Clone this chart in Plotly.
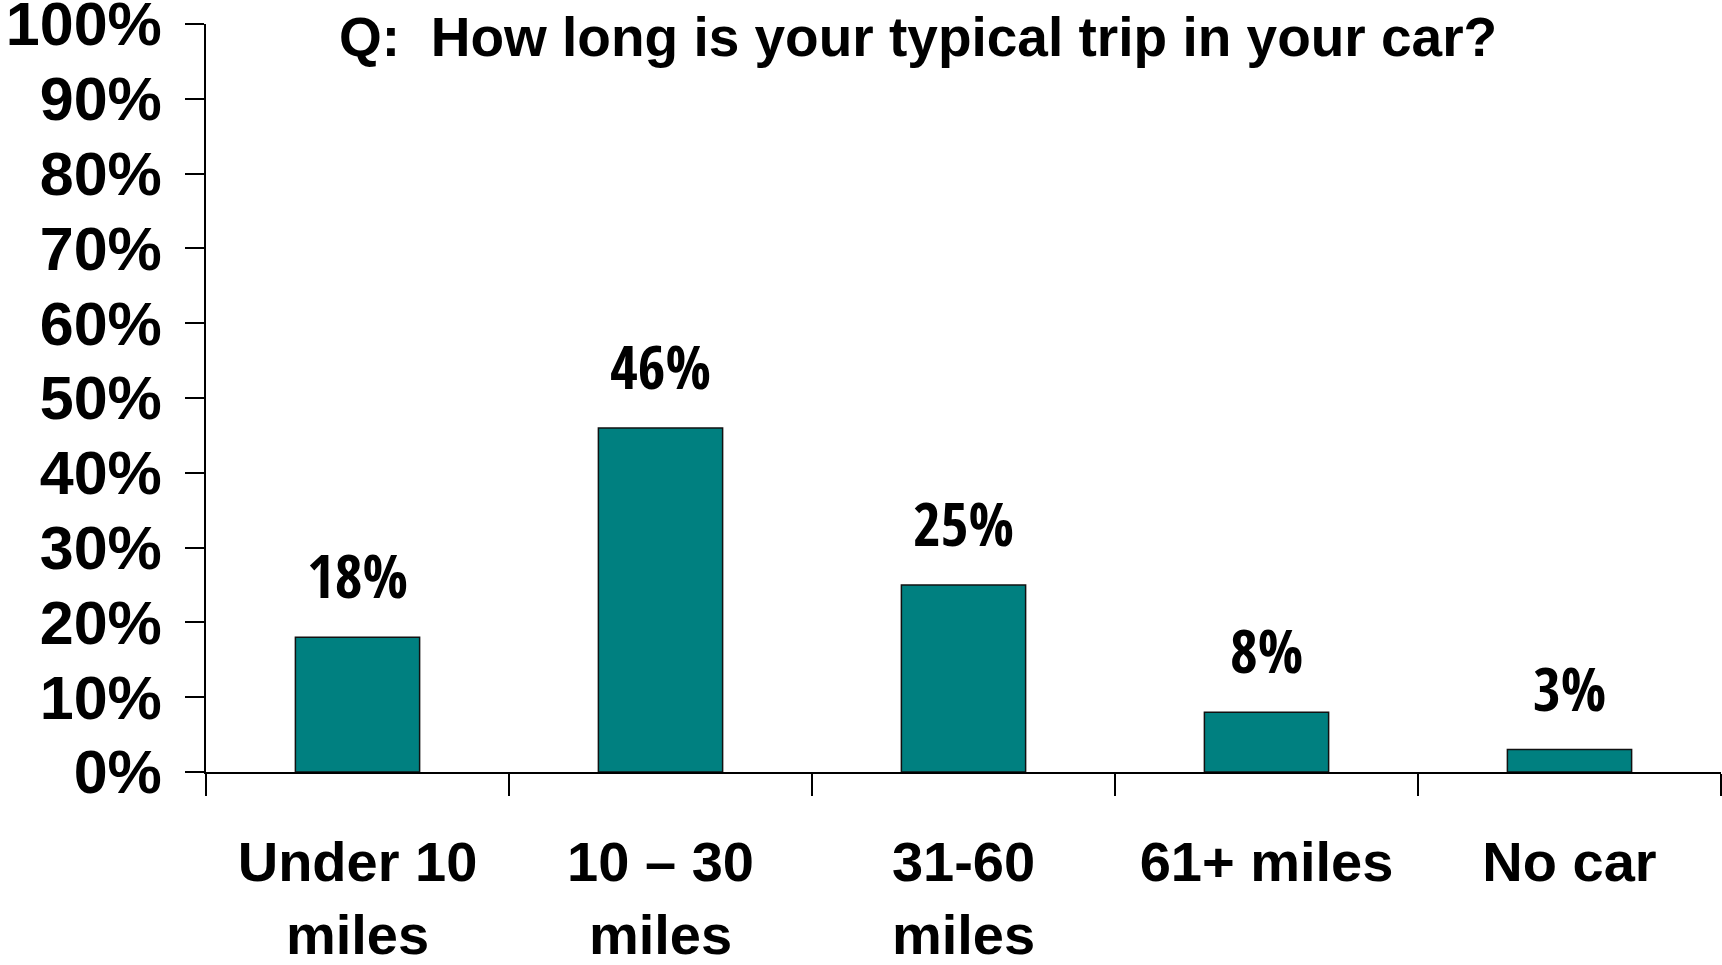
import plotly.graph_objects as go

# Survey answers: share of respondents per typical trip length
categories = ["Under 10<br>miles", "10 – 30<br>miles", "31-60<br>miles", "61+ miles", "No car"]
shares = [18, 46, 25, 8, 3]
value_labels = ["18%", "46%", "25%", "8%", "3%"]
y_ticks = list(range(0, 101, 10))
y_tick_text = [f"{v}%" for v in y_ticks]
title_text = "Q:  How long is your typical trip in your car?"

BAR_COLOR = "#008080"
LABEL_FONT = "Liberation Sans, Arial, sans-serif"
NARROW_FONT = ("Liberation Sans Narrow, Noto Sans Condensed, Open Sans Condensed, "
               "Arial Narrow, DejaVu Sans Condensed, sans-serif")

fig = go.Figure(
    go.Bar(
        x=categories,
        y=shares,
        marker=dict(color=BAR_COLOR, line=dict(color="#111111", width=1.5)),
        hoverinfo="skip",
    )
)

# value labels above each bar
for cat, val, txt in zip(categories, shares, value_labels):
    fig.add_annotation(
        x=cat, y=val, xref="x", yref="y",
        text=f"<b>{txt}</b>", showarrow=False,
        yanchor="bottom", yshift=19,
        font=dict(family=NARROW_FONT, size=60, color="black"),
    )

fig.add_annotation(
    x=0.47, y=1, xref="paper", yref="paper",
    text=f"<b>{title_text}</b>", showarrow=False,
    xanchor="center", yanchor="top", yshift=20,
    font=dict(family=LABEL_FONT, size=55, color="black"),
)

fig.update_layout(
    width=1722, height=965,
    margin=dict(l=206, r=1, t=24, b=193),
    paper_bgcolor="white", plot_bgcolor="white",
    bargap=0.59,
    showlegend=False,
    font=dict(family=LABEL_FONT, color="black"),
)

fig.update_xaxes(
    type="category",
    automargin=False,
    tickson="boundaries",
    ticks="outside", ticklen=22, tickwidth=2, tickcolor="black",
    showline=True, linecolor="black", linewidth=2,
    showgrid=False,
    tickfont=dict(family=LABEL_FONT, size=56, color="black", weight="bold"),
    ticklabelstandoff=40,
)

fig.update_yaxes(
    range=[0, 100],
    automargin=False,
    tickvals=y_ticks, ticktext=y_tick_text,
    ticks="outside", ticklen=19, tickwidth=2, tickcolor="black",
    showline=True, linecolor="black", linewidth=2,
    showgrid=False, zeroline=False,
    tickfont=dict(family=LABEL_FONT, size=61, color="black", weight="bold"),
    ticklabelstandoff=11,
    ticklabeloverflow="allow",
)

fig.write_html("out.html")
